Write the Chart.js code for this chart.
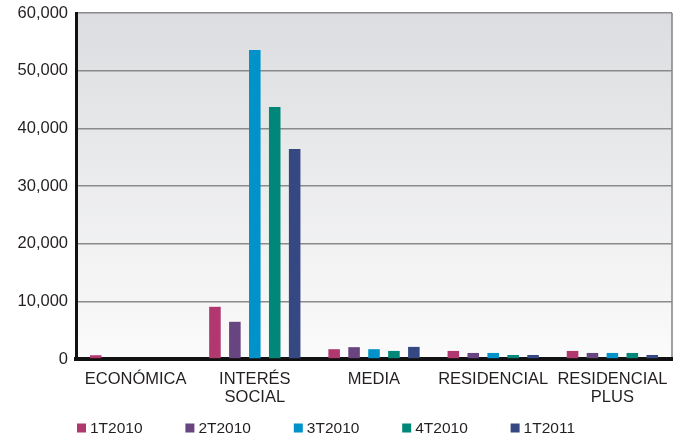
<!DOCTYPE html>
<html>
<head>
<meta charset="utf-8">
<script src="https://cdn.jsdelivr.net/npm/chart.js@4"></script>
<style>
  html, body { margin: 0; padding: 0; background: #fff; }
  #wrap { width: 683px; height: 436px; }
</style>
</head>
<body>
<div id="wrap"><canvas id="chart" width="683" height="436"></canvas></div>
<script>
const categories = [['ECONÓMICA'], ['INTERÉS', 'SOCIAL'], ['MEDIA'], ['RESIDENCIAL'], ['RESIDENCIAL', 'PLUS']];
const seriesNames = ['1T2010', '2T2010', '3T2010', '4T2010', '1T2011'];
const q1_2010 = [650, 9050, 1700, 1400, 1400];
const q2_2010 = [0, 6450, 2050, 1050, 1050];
const q3_2010 = [0, 53600, 1700, 1050, 1050];
const q4_2010 = [0, 43700, 1400, 700, 1050];
const q1_2011 = [0, 36400, 2100, 700, 700];
const yTicks = [0, 10000, 20000, 30000, 40000, 50000, 60000];

const seriesValues = [q1_2010, q2_2010, q3_2010, q4_2010, q1_2011];
const colors = ['#b0386e', '#684480', '#0092c9', '#00877a', '#354882'];
const textColor = '#231f20';
const fontFamily = '"Liberation Sans", Arial, sans-serif';

// plot area background: grey at top fading to white, plus the grey right edge
const plotBackground = {
  id: 'plotBackground',
  beforeDraw: (chart) => {
    const { ctx, chartArea: a } = chart;
    const grad = ctx.createLinearGradient(0, a.top, 0, a.bottom);
    grad.addColorStop(0, '#dcdde0');
    grad.addColorStop(1, '#fbfbfb');
    ctx.save();
    ctx.fillStyle = grad;
    ctx.fillRect(a.left, a.top, a.right - a.left, a.bottom - a.top);
    ctx.strokeStyle = '#8a8a8a';
    ctx.lineWidth = 1.6;
    ctx.beginPath();
    ctx.moveTo(a.right, a.top);
    ctx.lineTo(a.right, a.bottom);
    ctx.stroke();
    ctx.restore();
  }
};

// legend row under the axis labels, items spread wide like the original
const wideLegend = {
  id: 'wideLegend',
  afterDraw: (chart) => {
    const { ctx } = chart;
    const y = 428;
    ctx.save();
    ctx.font = `15.5px ${fontFamily}`;
    ctx.textBaseline = 'middle';
    ctx.textAlign = 'left';
    chart.data.datasets.forEach((ds, i) => {
      const x = 77 + i * 108.4;
      ctx.fillStyle = ds.backgroundColor;
      ctx.fillRect(x, y - 4.5, 9, 9);
      ctx.fillStyle = textColor;
      ctx.fillText(ds.label, x + 13, y + 0.5);
    });
    ctx.restore();
  }
};

new Chart(document.getElementById('chart'), {
  type: 'bar',
  data: {
    labels: categories,
    datasets: seriesNames.map((name, i) => ({
      label: name,
      data: seriesValues[i],
      backgroundColor: colors[i],
      borderWidth: 0,
      barPercentage: 0.58,
      categoryPercentage: 0.836
    }))
  },
  options: {
    responsive: false,
    animation: false,
    layout: { padding: { top: 13, left: 0, right: 11, bottom: 0 } },
    plugins: {
      tooltip: { enabled: false },
      legend: { display: false }
    },
    scales: {
      x: {
        z: 1,
        grid: { display: false, drawTicks: false },
        border: { display: true, color: '#111', width: 4 },
        ticks: {
          color: textColor,
          padding: 12,
          maxRotation: 0,
          autoSkip: false,
          font: { family: fontFamily, size: 16.5, lineHeight: 1.05 }
        },
        afterFit: (scale) => { scale.height = 77; }
      },
      y: {
        min: 0,
        max: 60000,
        afterBuildTicks: (scale) => { scale.ticks = yTicks.map((v) => ({ value: v })); },
        grid: { color: '#8a8a8a', lineWidth: 1.6, drawTicks: true, tickLength: 5, tickColor: 'rgba(0,0,0,0)' },
        border: { display: true, color: '#111', width: 3 },
        ticks: {
          color: textColor,
          padding: 3,
          font: { family: fontFamily, size: 16.5 },
          callback: (v) => Number(v).toLocaleString('en-US')
        },
        afterFit: (scale) => { scale.width = 76; }
      }
    }
  },
  plugins: [plotBackground, wideLegend]
});
</script>
</body>
</html>
